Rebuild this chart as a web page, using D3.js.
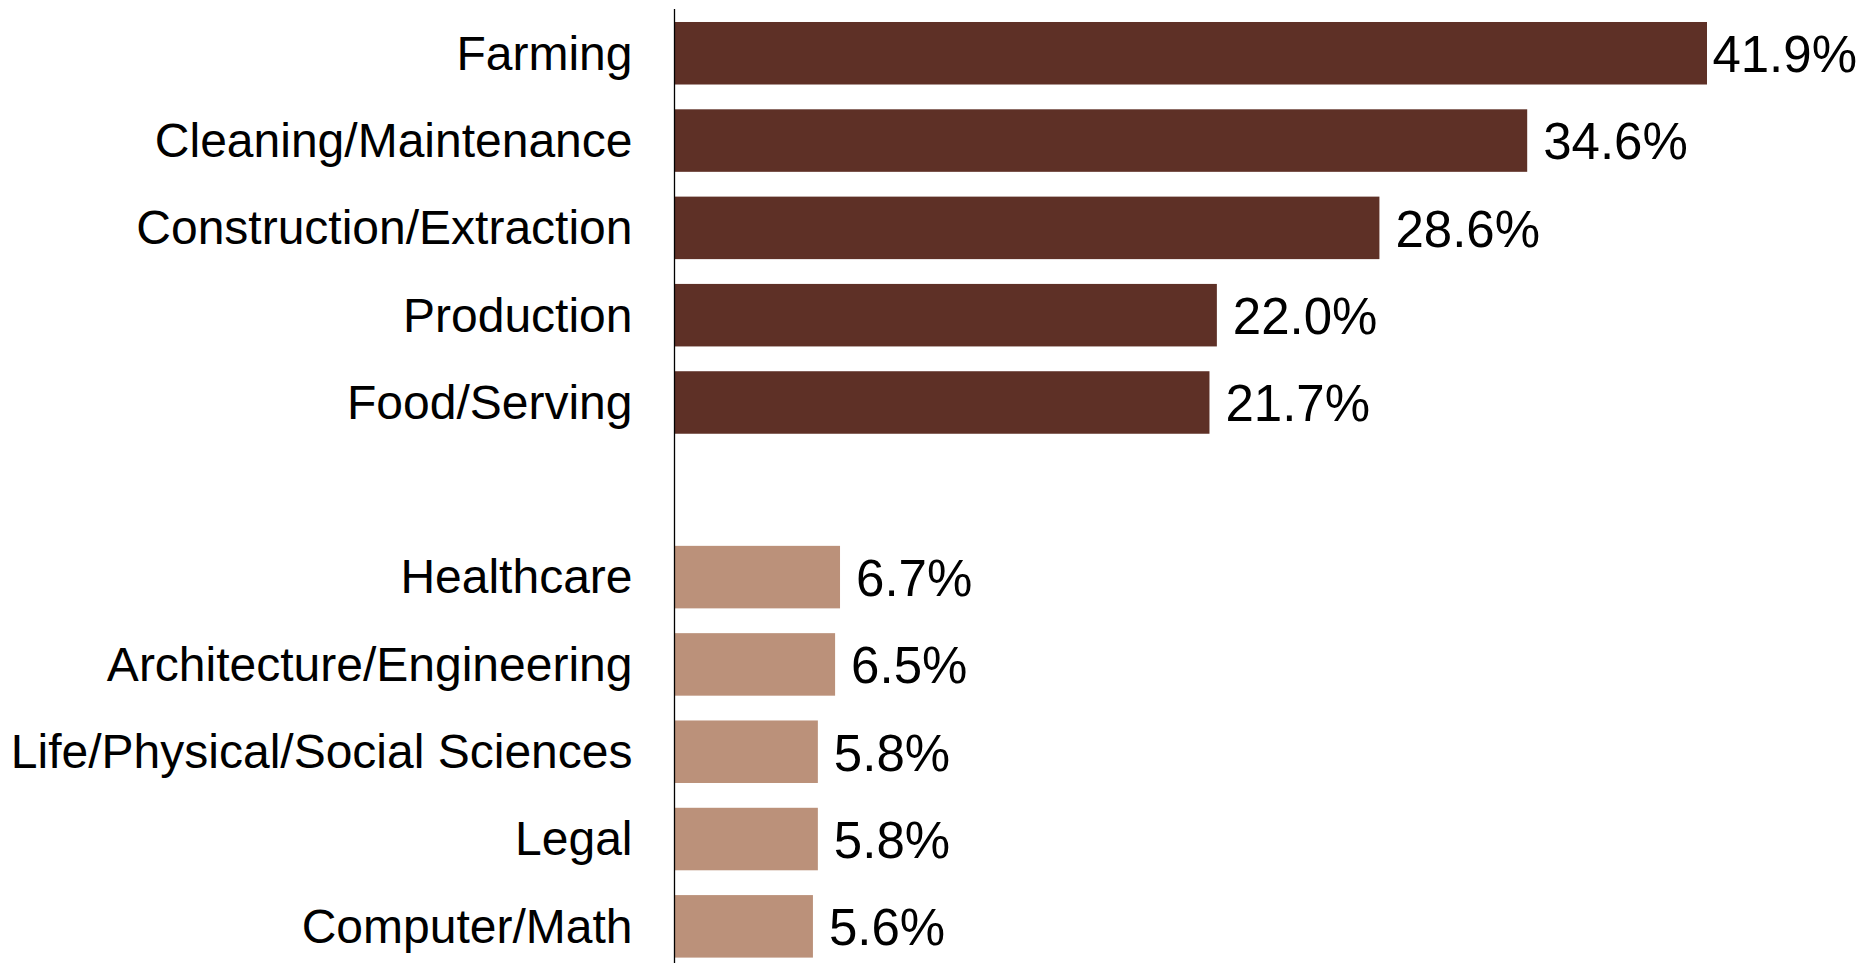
<!DOCTYPE html>
<html>
<head>
<meta charset="utf-8">
<script src="https://cdn.jsdelivr.net/npm/d3@7"></script>
<style>
  html, body { margin: 0; padding: 0; background: #fff; }
  svg { display: block; }
  text { font-family: "Liberation Sans", Arial, sans-serif; fill: #000; }
</style>
</head>
<body>
<svg id="chart" width="1870" height="963"></svg>
<script>
// Occupations with the highest share (top group) and lowest share (bottom group)
const highCategories = ["Farming", "Cleaning/Maintenance", "Construction/Extraction", "Production", "Food/Serving"];
const highValues = [41.9, 34.6, 28.6, 22.0, 21.7];
const lowCategories = ["Healthcare", "Architecture/Engineering", "Life/Physical/Social Sciences", "Legal", "Computer/Math"];
const lowValues = [6.7, 6.5, 5.8, 5.8, 5.6];
const groupColors = { high: "#5E3026", low: "#BB917A" };

const rows = [
  ...highCategories.map((c, i) => ({ key: c, label: c, value: highValues[i], group: "high" })),
  { key: "__gap__", label: "", value: null, group: null },
  ...lowCategories.map((c, i) => ({ key: c, label: c, value: lowValues[i], group: "low" }))
];

const svg = d3.select("#chart");
const width = 1870;
const axisX = 675;
const rightLimit = width - 13;

const y = d3.scaleBand()
  .domain(rows.map(d => d.key))
  .range([9.6, 970])
  .paddingInner(0.284)
  .paddingOuter(0.142);

const x = d3.scaleLinear()
  .domain([0, 45])
  .range([axisX, axisX + 45 * (1032 / 41.9)]);

const bars = rows.filter(d => d.value != null);

svg.append("g").selectAll("rect")
  .data(bars)
  .join("rect")
  .attr("x", x(0))
  .attr("y", d => y(d.key))
  .attr("width", d => x(d.value) - x(0))
  .attr("height", y.bandwidth())
  .attr("fill", d => groupColors[d.group]);

// value labels, pulled back in when they would run past the right edge
svg.append("g").selectAll("text")
  .data(bars)
  .join("text")
  .attr("y", d => y(d.key) + y.bandwidth() / 2)
  .attr("dy", "0.37em")
  .attr("font-size", 51)
  .text(d => d.value.toFixed(1) + "%")
  .attr("x", function (d) {
    const len = this.getComputedTextLength();
    return Math.min(x(d.value) + 16, rightLimit - len);
  });

// category labels
svg.append("g").selectAll("text")
  .data(bars)
  .join("text")
  .attr("x", 632.5)
  .attr("y", d => y(d.key) + y.bandwidth() / 2)
  .attr("dy", "0.34em")
  .attr("text-anchor", "end")
  .attr("font-size", 48)
  .text(d => d.label);

// vertical baseline axis
svg.append("line")
  .attr("x1", axisX - 0.5).attr("x2", axisX - 0.5)
  .attr("y1", 9).attr("y2", 963)
  .attr("stroke", "#000")
  .attr("stroke-width", 1.3);
</script>
</body>
</html>
